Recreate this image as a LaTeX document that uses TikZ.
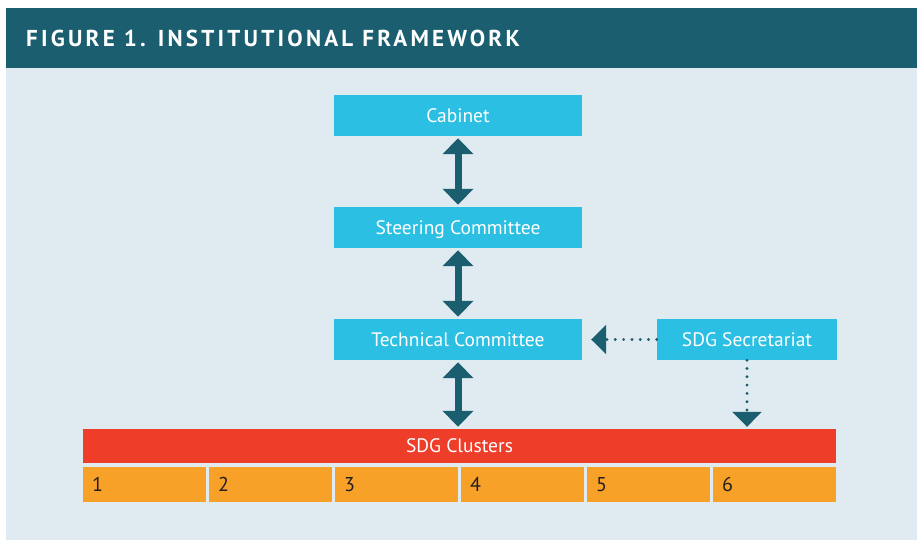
\documentclass[tikz,border=0pt]{standalone}
\usepackage{fontspec}
\setmainfont{PT Sans}
\newfontfamily\titlefont[LetterSpace=14]{PT Sans}
\usetikzlibrary{arrows.meta}
\definecolor{teal}{HTML}{1B5E70}
\definecolor{panel}{HTML}{E0EBF1}
\definecolor{cyanbox}{HTML}{2BBFE3}
\definecolor{redbar}{HTML}{EE3E2A}
\definecolor{orangebox}{HTML}{F7A128}
\definecolor{numtext}{HTML}{231F20}
\begin{document}
\begin{tikzpicture}[x=1pt,y=-1pt]
\tikzstyle{box}=[fill=cyanbox,text=white,minimum width=248pt,minimum height=41pt,inner sep=0pt,text height=13.5pt,text depth=0pt,font=\fontsize{19.5}{22}\selectfont]
\tikzstyle{cluster}=[fill=orangebox,text=numtext,minimum width=123pt,minimum height=35pt,inner sep=0pt,text width=105pt,text height=14pt,text depth=0pt,align=left,font=\fontsize{20}{22}\selectfont]
\tikzstyle{link}=[teal,line width=7pt,{Triangle[width=30pt,length=16pt]}-{Triangle[width=30pt,length=16pt]},shorten <=2pt,shorten >=2pt]
\tikzstyle{dotlink}=[teal,line width=3.2pt,line cap=round,dash pattern=on 0pt off 8.3pt,-{Triangle[width=29pt,length=15pt]}]
\useasboundingbox (0,0) rectangle (917,540);
\fill[white] (0,0) rectangle (917,540);
\fill[panel] (6,68) rectangle (917,540);
\fill[teal] (6,8) rectangle (917,68);
\node[anchor=base west,text=white,inner sep=0pt,font=\titlefont\bfseries\fontsize{23}{26}\selectfont] (T) at (26,47) {FIGURE 1. INSTITUTIONAL FRAMEWORK};
\node[box] (C) at (458,115.5) {Cabinet};
\node[box] (S) at (458,227.5) {Steering Committee};
\node[box] (TC) at (458,339.5) {Technical Committee};
\node[box,minimum width=180pt] (SEC) at (747,339.5) {SDG Secretariat};
\node[fill=redbar,text=white,minimum width=753pt,minimum height=34pt,inner sep=0pt,text height=13.5pt,text depth=0pt,font=\fontsize{19.5}{22}\selectfont] (CL) at (459.5,446) {SDG Clusters};
\foreach \i in {1,...,6}
  \node[cluster] (K\i) at ({83+61.5+(\i-1)*126},484.5) {\i};
\draw[link] (C) -- (S);
\draw[link] (S) -- (TC);
\draw[link] (TC) -- (TC |- CL.north);
\draw[dotlink,shorten >=9pt] (SEC) -- (TC);
\draw[dotlink,shorten >=2pt] (SEC) -- (SEC |- CL.north);
\end{tikzpicture}
\end{document}
